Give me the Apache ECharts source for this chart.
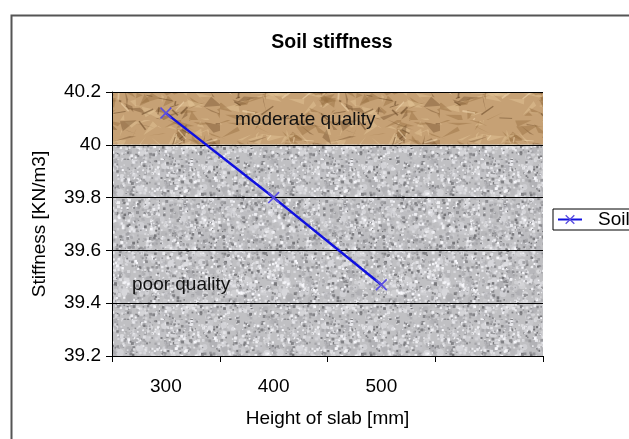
<!DOCTYPE html>
<html>
<head>
<meta charset="utf-8">
<script src="https://cdn.jsdelivr.net/npm/echarts@6/dist/echarts.min.js"></script>
<style>
  html, body { margin: 0; padding: 0; background: #fff; }
  #chart { width: 629px; height: 439px; }
</style>
</head>
<body>
<div id="chart"></div>
<script>
// Slab height categories (the last band is left empty on the axis)
const heights = ['300', '400', '500', ''];
// Measured soil stiffness for each slab height
const stiffness = [40.12, 39.8, 39.47];
// Quality bands on the stiffness scale
const moderateBand = [40.0, 40.2];
const poorBand = [39.2, 40.0];

const FONT = 'Liberation Sans, Arial, sans-serif';
const FS = 19;

// Small deterministic PRNG so the background textures are stable
function prng(seed) {
  return function () {
    seed |= 0; seed = seed + 0x6D2B79F5 | 0;
    let t = Math.imul(seed ^ seed >>> 15, 1 | seed);
    t = t + Math.imul(t ^ t >>> 7, 61 | t) ^ t;
    return ((t ^ t >>> 14) >>> 0) / 4294967296;
  };
}

// Grey granite-like speckle
function granite() {
  const c = document.createElement('canvas');
  c.width = 160; c.height = 160;
  const g = c.getContext('2d');
  const r = prng(7);
  g.fillStyle = '#c0c0c3';
  g.fillRect(0, 0, 160, 160);
  for (let i = 0; i < 700; i++) {
    const shade = 170 + Math.floor(r() * 60);
    g.fillStyle = 'rgba(' + shade + ',' + shade + ',' + (shade + 4) + ',0.7)';
    g.beginPath();
    g.arc(r() * 160, r() * 160, 1.5 + r() * 2.5, 0, Math.PI * 2);
    g.fill();
  }
  for (let i = 0; i < 2400; i++) {
    const v = r();
    let shade;
    if (v < 0.25) shade = 115 + Math.floor(r() * 40);
    else if (v < 0.5) shade = 160 + Math.floor(r() * 25);
    else shade = 210 + Math.floor(r() * 40);
    g.fillStyle = 'rgb(' + shade + ',' + shade + ',' + (shade + 4) + ')';
    const s = 1 + r() * 2;
    g.fillRect(r() * 160, r() * 160, s, s);
  }
  return c;
}

// Crumpled brown paper: faceted shading plus a few creases
function paper() {
  const c = document.createElement('canvas');
  c.width = 220; c.height = 60;
  const g = c.getContext('2d');
  const r = prng(21);
  g.fillStyle = '#c6a175';
  g.fillRect(0, 0, 220, 60);
  for (let i = 0; i < 160; i++) {
    const x = r() * 220, y = r() * 60;
    const v = r();
    g.fillStyle = v < 0.4 ? 'rgba(150,110,65,0.45)' : (v < 0.8 ? 'rgba(225,195,150,0.5)' : 'rgba(110,75,40,0.4)');
    g.beginPath();
    g.moveTo(x, y);
    g.lineTo(x + (r() - 0.5) * 36, y + (r() - 0.5) * 22);
    g.lineTo(x + (r() - 0.5) * 36, y + (r() - 0.5) * 22);
    g.closePath();
    g.fill();
  }
  for (let i = 0; i < 45; i++) {
    const x = r() * 220, y = r() * 60;
    g.strokeStyle = r() < 0.6 ? 'rgba(100,68,35,0.55)' : 'rgba(240,215,175,0.6)';
    g.lineWidth = 0.8 + r() * 1.2;
    g.beginPath();
    g.moveTo(x, y);
    g.lineTo(x + (r() - 0.5) * 30, y + (r() - 0.5) * 18);
    g.stroke();
  }
  return c;
}

const crossSymbol = 'path://M0,1L1,0L5,4L9,0L10,1L6,5L10,9L9,10L5,6L1,10L0,9L4,5Z';

const chart = echarts.init(document.getElementById('chart'), null, { renderer: 'canvas' });
chart.setOption({
  animation: false,
  textStyle: { fontFamily: FONT },
  title: {
    text: 'Soil stiffness',
    left: 327, top: 28, textAlign: 'center',
    textStyle: { fontFamily: FONT, fontSize: 19.5, fontWeight: 'bold', color: '#000' }
  },
  graphic: [{
    type: 'rect', left: 9, top: 13, silent: true,
    shape: { width: 700, height: 500 },
    style: { fill: 'none', stroke: '#555', lineWidth: 2 }
  }],
  legend: {
    left: 553, top: 209,
    data: ['Soil stiffness'],
    orient: 'vertical',
    itemWidth: 24, itemHeight: 12, itemGap: 0,
    padding: [1, 4, 1, 4],
    borderColor: '#000', borderWidth: 1,
    backgroundColor: '#fff',
    textStyle: { fontFamily: FONT, fontSize: FS, color: '#000', padding: [0, 0, 0, 11] }
  },
  grid: { left: 112, top: 92, width: 431, height: 264 },
  xAxis: {
    type: 'category',
    data: heights,
    boundaryGap: true,
    z: 3,
    name: 'Height of slab [mm]',
    nameLocation: 'middle', nameGap: 53,
    nameTextStyle: { fontFamily: FONT, fontSize: FS, color: '#000' },
    axisLine: { lineStyle: { color: '#000', width: 1 } },
    axisTick: { show: true, interval: 0, length: 6, lineStyle: { color: '#000' } },
    axisLabel: { interval: 0, margin: 21, fontFamily: FONT, fontSize: FS, color: '#000' },
    splitLine: { show: false }
  },
  yAxis: {
    type: 'value',
    min: 39.2, max: 40.2, interval: 0.2,
    z: 3,
    name: 'Stiffness [KN/m3]',
    nameLocation: 'middle', nameGap: 63, nameRotate: 90,
    nameTextStyle: { fontFamily: FONT, fontSize: FS, color: '#000' },
    axisLine: { show: true, lineStyle: { color: '#000', width: 1 } },
    axisTick: { show: true, length: 6, lineStyle: { color: '#000' } },
    axisLabel: {
      margin: 11, fontFamily: FONT, fontSize: FS, color: '#000',
      formatter: v => String(parseFloat(v.toFixed(1)))
    },
    splitLine: { show: true, lineStyle: { color: '#000', width: 1 } }
  },
  series: [{
    // Quality bands painted underneath the grid lines
    name: 'bands',
    type: 'line',
    data: [],
    z: 1,
    silent: true,
    markArea: {
      silent: true,
      data: [
        [{
          yAxis: moderateBand[0],
          itemStyle: { color: { image: paper(), repeat: 'repeat' } },
          label: {
            show: true, formatter: 'moderate quality',
            position: [123, 18],
            fontFamily: FONT, fontSize: FS, color: '#111'
          }
        }, { yAxis: moderateBand[1] }],
        [{
          yAxis: poorBand[0],
          itemStyle: { color: { image: granite(), repeat: 'repeat' } },
          label: {
            show: true, formatter: 'poor quality',
            position: [20, 130],
            fontFamily: FONT, fontSize: FS, color: '#111'
          }
        }, { yAxis: poorBand[1] }]
      ]
    }
  }, {
    name: 'Soil stiffness',
    type: 'line',
    data: stiffness,
    z: 5,
    symbol: crossSymbol,
    symbolSize: 12,
    lineStyle: { color: '#1010e0', width: 2.5 },
    itemStyle: { color: '#5a4ee0' }
  }]
});
</script>
</body>
</html>
